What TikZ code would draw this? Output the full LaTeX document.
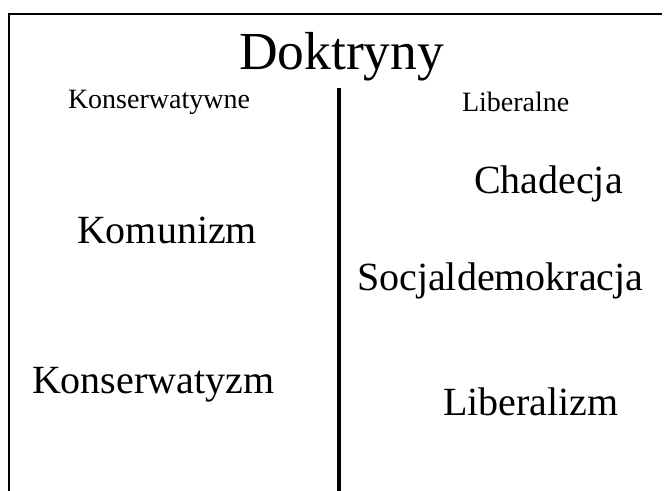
\documentclass[tikz,border=0pt]{standalone}
\usepackage{fontspec}
\setmainfont{Liberation Serif}
\begin{document}
\begin{tikzpicture}[x=1pt,y=-1pt,
  lbl/.style={anchor=base west,inner sep=0pt,outer sep=0pt},
  big/.style={lbl,font=\fontsize{40}{40}\selectfont},
  small/.style={lbl,font=\fontsize{28}{28}\selectfont},
  frame/.style={line width=2pt,black},
  divider/.style={line width=4pt,black}]
\useasboundingbox (0,0) rectangle (666,490);
\coordinate (tr) at (662,14);
\coordinate (tl) at (9,14);
\coordinate (bl) at (9,491);
\coordinate (mt) at (339,88);
\coordinate (mb) at (339,491);
\draw[frame] (tr) -- (tl) -- (bl);
\draw[divider] (mt) -- (mb);
\node[lbl,font=\fontsize{53.5}{53.5}\selectfont] (title) at (239,69) {Doktryny};
\node[small] (kons) at (68,108) {Konserwatywne};
\node[small] (lib) at (462,111) {Liberalne};
\node[big] (chad) at (474,193) {Chadecja};
\node[big] (socj) at (357,290) {Socjaldemokracja};
\node[big] (komu) at (77,243) {Komunizm};
\node[big] (konsz) at (32,393) {Konserwatyzm};
\node[big] (libz) at (443,415) {Liberalizm};
\end{tikzpicture}
\end{document}
